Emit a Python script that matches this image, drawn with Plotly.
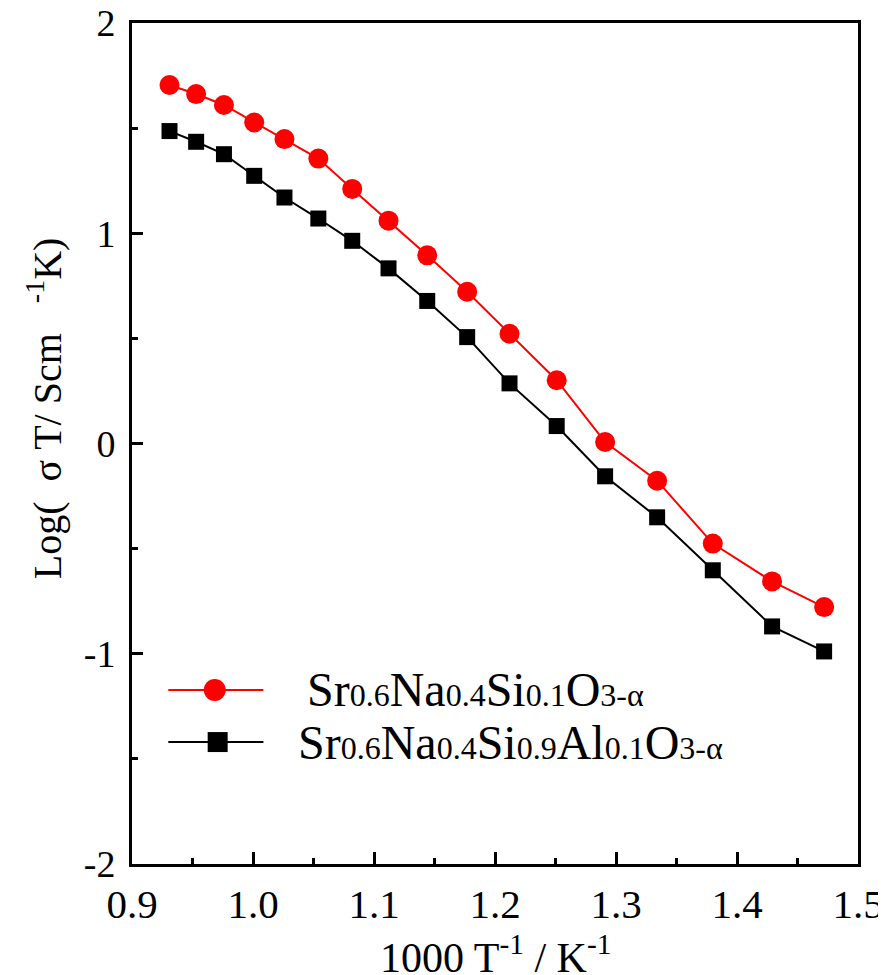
import plotly.graph_objects as go

# Data
inv_T = [0.931, 0.953, 0.976, 1.001, 1.026, 1.054, 1.082, 1.112, 1.144, 1.177,
         1.212, 1.251, 1.291, 1.334, 1.380, 1.429, 1.472]
logsT_Si = [1.705, 1.662, 1.610, 1.527, 1.448, 1.355, 1.211, 1.060, 0.895, 0.722,
            0.522, 0.301, 0.007, -0.177, -0.476, -0.656, -0.778]
logsT_Al = [1.486, 1.435, 1.376, 1.273, 1.170, 1.070, 0.964, 0.833, 0.678, 0.506,
            0.286, 0.083, -0.156, -0.351, -0.603, -0.870, -0.989]

name_Si = "Sr0.6Na0.4Si0.1O3-α"
name_Al = "Sr0.6Na0.4Si0.9Al0.1O3-α"

x_ticks = [0.9, 1.0, 1.1, 1.2, 1.3, 1.4, 1.5]
x_tick_text = ["0.9", "1.0", "1.1", "1.2", "1.3", "1.4", "1.5"]
y_ticks = [-2, -1, 0, 1, 2]
y_tick_text = ["-2", "-1", "0", "1", "2"]

x_title = "1000 T<sup>-1</sup> / K<sup>-1</sup>"
y_title = "Log(  σ T/ Scm   <sup>-1</sup>K)"

FONT = "Liberation Serif, Times New Roman, serif"
RED = "#ff0000"
BLACK = "#000000"

fig = go.Figure()
fig.add_trace(go.Scatter(x=inv_T, y=logsT_Si, mode="lines+markers", name=name_Si,
                         line=dict(color=RED, width=2),
                         marker=dict(symbol="circle", size=20, color=RED),
                         showlegend=False))
fig.add_trace(go.Scatter(x=inv_T, y=logsT_Al, mode="lines+markers", name=name_Al,
                         line=dict(color=BLACK, width=2),
                         marker=dict(symbol="square", size=16, color=BLACK),
                         showlegend=False))

fig.update_xaxes(range=[0.9, 1.5], tickvals=x_ticks, ticktext=x_tick_text,
                 ticks="inside", ticklen=12, tickwidth=2.5, tickcolor="black",
                 minor=dict(dtick=0.05, ticks="inside", ticklen=6, tickwidth=2.5, tickcolor="black"),
                 showline=True, linewidth=3, linecolor="black", mirror=True,
                 showgrid=False, zeroline=False, ticklabelstandoff=2,
                 ticklabeloverflow="allow", automargin=False,
                 tickfont=dict(family=FONT, size=41, color="black"))
fig.update_yaxes(range=[-2, 2], tickvals=y_ticks, ticktext=y_tick_text,
                 ticks="inside", ticklen=11, tickwidth=2.5, tickcolor="black",
                 minor=dict(dtick=0.5, ticks="inside", ticklen=6, tickwidth=2.5, tickcolor="black"),
                 showline=True, linewidth=3, linecolor="black", mirror=True,
                 showgrid=False, zeroline=False, ticklabelstandoff=6,
                 ticklabeloverflow="allow", automargin=False,
                 tickfont=dict(family=FONT, size=38, color="black"))

# axis titles placed as in the reference (y title sits above the plot's middle)
fig.add_annotation(xref="paper", yref="paper", x=0, y=0.542, xshift=-88, xanchor="center",
                   yanchor="middle", textangle=-90, text=y_title, showarrow=False,
                   font=dict(family=FONT, size=40, color="black"))
fig.add_annotation(xref="paper", yref="paper", x=0.5, y=0, yshift=-90, xanchor="center",
                   yanchor="middle", text=x_title, showarrow=False,
                   font=dict(family=FONT, size=42, color="black"))

def chem(parts):
    out = ""
    for big, small in parts:
        out += f"<span style='font-size:48px'>{big}</span><span style='font-size:32px'>{small}</span>"
    return out

txt_Si = chem([("Sr", "0.6"), ("Na", "0.4"), ("Si", "0.1"), ("O", "3-α")])
txt_Al = chem([("Sr", "0.6"), ("Na", "0.4"), ("Si", "0.9"), ("Al", "0.1"), ("O", "3-α")])

# Manual legend (paper coordinates)
leg = [(0.207, RED, "circle", txt_Si, 0.238), (0.145, BLACK, "square", txt_Al, 0.226)]
for yp, col, sym, txt, xt in leg:
    fig.add_shape(type="line", xref="paper", yref="paper", x0=0.05, x1=0.181, y0=yp, y1=yp,
                  line=dict(color=col, width=2))
    if sym == "circle":
        fig.add_shape(type="circle", xref="paper", yref="paper", xsizemode="pixel", ysizemode="pixel",
                      xanchor=0.114, yanchor=yp, x0=-11, x1=11, y0=-11, y1=11,
                      fillcolor=col, line=dict(color=col, width=0))
    else:
        fig.add_shape(type="rect", xref="paper", yref="paper", xsizemode="pixel", ysizemode="pixel",
                      xanchor=0.118, yanchor=yp, x0=-10, x1=10, y0=-10, y1=10,
                      fillcolor=col, line=dict(color=col, width=0))
    fig.add_annotation(xref="paper", yref="paper", x=xt, y=yp, xanchor="left", yanchor="middle",
                       text=txt, showarrow=False, font=dict(family=FONT, color="black", size=48))

# page body has an 8px margin; plot area placed to line up with the reference in the window
fig.update_layout(width=878, height=975, plot_bgcolor="white", paper_bgcolor="white",
                  margin=dict(l=124, r=28, t=15, b=119), showlegend=False)

fig.write_html("out.html")
